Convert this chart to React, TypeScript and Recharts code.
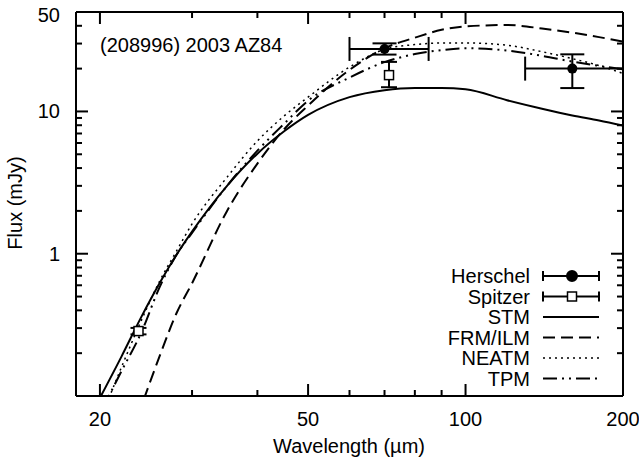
import React from 'react';
import { ComposedChart, Line, Scatter, ErrorBar, XAxis, YAxis } from 'recharts';

// model wavelengths (micron) and fluxes (mJy)
const WL = [20, 22, 24, 26, 28, 30, 35, 40, 45, 50, 60, 70, 80, 90, 100, 120, 140, 160, 180, 200];
const STM = [0.097, 0.19, 0.36, 0.62, 0.98, 1.43, 3.0, 5.05, 7.25, 9.45, 12.6, 14.1, 14.6, 14.6, 14.3, 12.0, 10.45, 9.37, 8.64, 7.95];
const FRM = [0.014, 0.036, 0.085, 0.19, 0.38, 0.62, 2.0, 4.3, 7.5, 11, 19.6, 27.8, 33, 37.5, 39.6, 40.5, 38.3, 35.8, 33.3, 31];
const NEATM = [0.067, 0.16, 0.34, 0.64, 1.04, 1.62, 3.45, 6.2, 9.3, 12.6, 20.5, 27.3, 29.5, 30.3, 30.3, 29.2, 26.3, 23.5, 21, 18.5];
const TPM = [0.075, 0.15, 0.28, 0.58, 0.98, 1.4, 3.0, 5.3, 8.2, 11.9, 17.3, 22.2, 25.3, 27, 27.8, 26.8, 24.6, 22.4, 20.9, 19.8];

// observations: wavelength, flux, x error [minus, plus], y error [minus, plus]
const HERSCHEL_WL = [70, 160];
const HERSCHEL_F = [27.5, 20];
const HERSCHEL_EX = [[10, 15], [30, 40]];
const HERSCHEL_EY = [[2.4, 2.6], [5.4, 5.2]];
const SPITZER_WL = [23.7, 71.4];
const SPITZER_F = [0.286, 18];
const SPITZER_EY = [[0.015, 0.015], [3.2, 4.3]];

const X_DOMAIN = [18, 200];
const Y_DOMAIN = [0.1, 50];
const X_TICKS = [20, 30, 40, 50, 60, 70, 80, 90, 100, 200];
const X_MAJOR = [20, 50, 100, 200];
const Y_TICKS = [0.2, 0.3, 0.4, 0.5, 0.6, 0.7, 0.8, 0.9, 1, 2, 3, 4, 5, 6, 7, 8, 9, 10, 20, 30, 40, 50];
const Y_MAJOR = [1, 10];
const Y_LABELS = [1, 10, 50];

const LEGEND = ['Herschel', 'Spitzer', 'STM', 'FRM/ILM', 'NEATM', 'TPM'];

const models = WL.map((wl, i) => ({ wl, stm: STM[i], frm: FRM[i], neatm: NEATM[i], tpm: TPM[i] }));
const herschel = HERSCHEL_WL.map((wl, i) => ({ wl, f: HERSCHEL_F[i], ex: HERSCHEL_EX[i], ey: HERSCHEL_EY[i] }));
const spitzer = SPITZER_WL.map((wl, i) => ({ wl, f: SPITZER_F[i], ey: SPITZER_EY[i] }));

// tick marks sit on the frame; drawn as scatter marks so they go through the axis scales
const bottomTicks = X_TICKS.map((t) => ({ wl: t, f: Y_DOMAIN[0], len: X_MAJOR.includes(t) ? 12 : 6 }));
const topTicks = X_TICKS.map((t) => ({ wl: t, f: Y_DOMAIN[1], len: X_MAJOR.includes(t) ? 12 : 6 }));
const leftTicks = Y_TICKS.map((t) => ({ wl: X_DOMAIN[0], f: t, len: Y_MAJOR.includes(t) ? 12 : 6 }));
const rightTicks = Y_TICKS.map((t) => ({ wl: X_DOMAIN[1], f: t, len: Y_MAJOR.includes(t) ? 12 : 6 }));

const FONT = '"Liberation Sans", Arial, Helvetica, sans-serif';

const BottomLabel = (p: any) => {
  const v = p.payload.value;
  return (
    <text x={p.x} y={p.y + 28} textAnchor="middle" fontSize={20} fontFamily={FONT} fill="#000">
      {X_MAJOR.includes(v) ? String(v) : ''}
    </text>
  );
};

const LeftLabel = (p: any) => {
  const v = p.payload.value;
  return (
    <text x={p.x - 14} y={p.y + (v === 50 ? 10 : 7)} textAnchor="end" fontSize={20} fontFamily={FONT} fill="#000">
      {Y_LABELS.includes(v) ? String(v) : ''}
    </text>
  );
};

const tickShape = (dx: number, dy: number) => (p: any) => {
  const len = p.payload?.len ?? 6;
  return <line x1={p.cx} y1={p.cy} x2={p.cx + dx * len} y2={p.cy + dy * len} stroke="#000" strokeWidth={2} />;
};
const UpTick = tickShape(0, -1);
const DownTick = tickShape(0, 1);
const RightwardTick = tickShape(1, 0);
const LeftwardTick = tickShape(-1, 0);

const Dot = (p: any) => <circle cx={p.cx} cy={p.cy} r={5} fill="#000" />;
const Box = (p: any) => <rect x={p.cx - 4.5} y={p.cy - 4.5} width={9} height={9} fill="#fff" stroke="#000" strokeWidth={1.5} />;

const DASH: Record<string, string | undefined> = {
  STM: undefined,
  'FRM/ILM': '12 6',
  NEATM: '2 4',
  TPM: '14 5 2 5 2 5',
};

function LegendBox() {
  const x0 = 543;
  const x1 = 599;
  return (
    <g fontFamily={FONT} fontSize={20} fill="#000">
      {LEGEND.map((name, i) => {
        const y = 276 + i * 20.5;
        let sample: React.ReactNode;
        if (i < 2) {
          sample = (
            <g stroke="#000" strokeWidth={2}>
              <line x1={x0} x2={x1} y1={y} y2={y} />
              <line x1={x0} x2={x0} y1={y - 5} y2={y + 5} />
              <line x1={x1} x2={x1} y1={y - 5} y2={y + 5} />
              {i === 0 ? (
                <circle cx={572} cy={y} r={5} fill="#000" />
              ) : (
                <rect x={567.5} y={y - 4.5} width={9} height={9} fill="#fff" strokeWidth={1.5} />
              )}
            </g>
          );
        } else {
          sample = (
            <line x1={x0} x2={x1} y1={y} y2={y} stroke="#000" strokeWidth={name === 'NEATM' ? 1.5 : 2} strokeDasharray={DASH[name]} />
          );
        }
        return (
          <g key={name}>
            <text x={530} y={y + 7} textAnchor="end">{name}</text>
            {sample}
          </g>
        );
      })}
    </g>
  );
}

export default function App() {
  return (
    <div style={{ position: 'absolute', left: 0, top: 0, width: 639, height: 464 }}>
      <svg width={639} height={464} style={{ position: 'absolute', left: 0, top: 0 }}>
        <text x={100} y={52} fontFamily={FONT} fontSize={20} fill="#000">(208996) 2003 AZ84</text>
        <LegendBox />
        <text x={349} y={453} textAnchor="middle" fontFamily={FONT} fontSize={20} fill="#000">Wavelength (µm)</text>
        <text transform="translate(22 203) rotate(-90)" textAnchor="middle" fontFamily={FONT} fontSize={20} fill="#000">Flux (mJy)</text>
      </svg>
      <div style={{ position: 'absolute', left: 0, top: 0 }}>
        <ComposedChart width={639} height={464} data={models} margin={{ top: 10, right: 14, bottom: 28, left: 16 }}>
          <XAxis dataKey="wl" type="number" scale="log" domain={X_DOMAIN} allowDataOverflow ticks={X_TICKS} interval={0}
            height={40} tickSize={0} tickLine={false} tick={BottomLabel} axisLine={{ stroke: '#000', strokeWidth: 2 }} />
          <XAxis xAxisId="top" orientation="top" dataKey="wl" type="number" scale="log" domain={X_DOMAIN} allowDataOverflow
            ticks={X_TICKS} height={2} tickLine={false} tick={false} axisLine={{ stroke: '#000', strokeWidth: 2 }} />
          <YAxis type="number" scale="log" domain={Y_DOMAIN} allowDataOverflow ticks={Y_TICKS} interval={0}
            width={60} tickSize={0} tickLine={false} tick={LeftLabel} axisLine={{ stroke: '#000', strokeWidth: 2 }} />
          <YAxis yAxisId="right" orientation="right" type="number" scale="log" domain={Y_DOMAIN} allowDataOverflow
            ticks={Y_TICKS} width={2} tickLine={false} tick={false} axisLine={{ stroke: '#000', strokeWidth: 2 }} />

          <Line xAxisId="top" yAxisId="right" dataKey="stm" type="monotone" stroke="#000" strokeWidth={2} dot={false} isAnimationActive={false} />
          <Line dataKey="frm" type="monotone" stroke="#000" strokeWidth={2} strokeDasharray="12 6" dot={false} isAnimationActive={false} />
          <Line dataKey="neatm" type="monotone" stroke="#000" strokeWidth={1.5} strokeDasharray="2 4" dot={false} isAnimationActive={false} />
          <Line dataKey="tpm" type="monotone" stroke="#000" strokeWidth={2} strokeDasharray="14 5 2 5 2 5" dot={false} isAnimationActive={false} />

          <Scatter data={bottomTicks} dataKey="f" shape={UpTick} isAnimationActive={false} />
          <Scatter data={topTicks} dataKey="f" shape={DownTick} isAnimationActive={false} />
          <Scatter data={leftTicks} dataKey="f" shape={RightwardTick} isAnimationActive={false} />
          <Scatter data={rightTicks} dataKey="f" shape={LeftwardTick} isAnimationActive={false} />

          <Scatter data={herschel} dataKey="f" shape={Dot} isAnimationActive={false}>
            <ErrorBar dataKey="ex" direction="x" width={12} stroke="#000" strokeWidth={2} />
            <ErrorBar dataKey="ey" direction="y" width={12} stroke="#000" strokeWidth={2} />
          </Scatter>
          <Scatter data={spitzer} dataKey="f" shape={Box} isAnimationActive={false}>
            <ErrorBar dataKey="ey" direction="y" width={8} stroke="#000" strokeWidth={2} />
          </Scatter>
        </ComposedChart>
      </div>
    </div>
  );
}
